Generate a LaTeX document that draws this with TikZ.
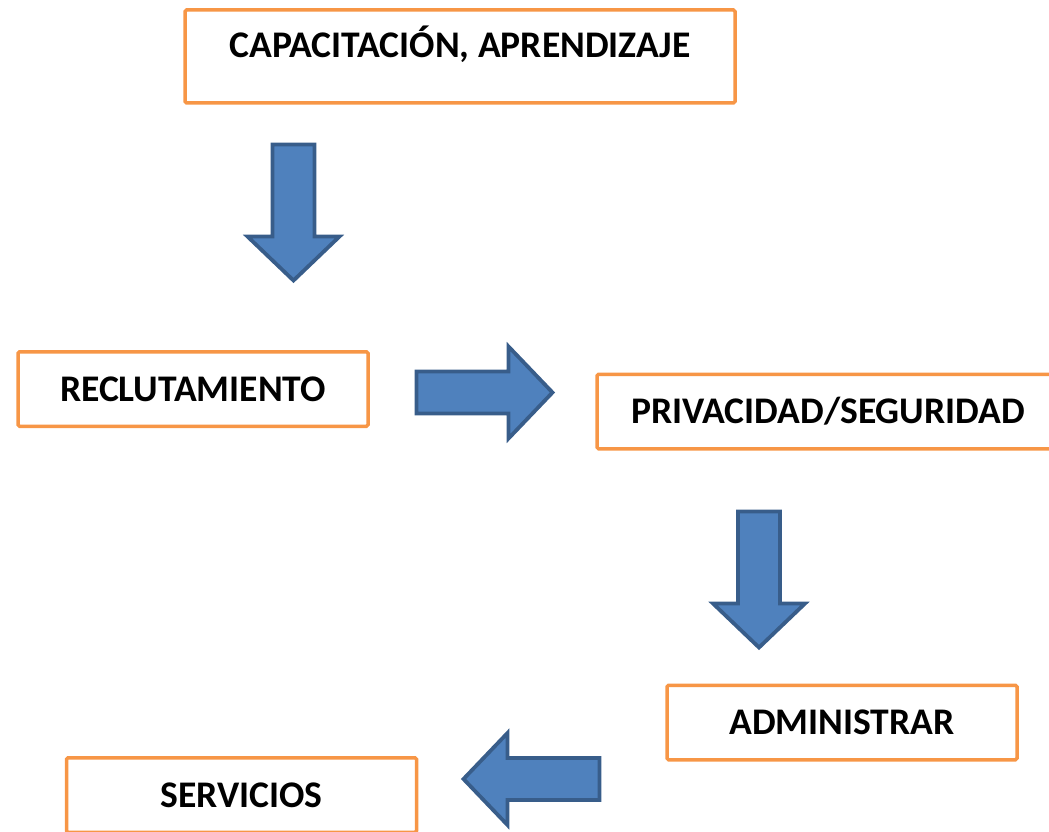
\documentclass[tikz,border=0pt]{standalone}
\usepackage{fontspec}
\setmainfont{Carlito}
\usepackage{tikz}
\usetikzlibrary{shapes,arrows}

\definecolor{naranja}{HTML}{F79646}
\definecolor{azulrelleno}{HTML}{4F81BD}
\definecolor{azulborde}{HTML}{385D8A}

\tikzset{
  caja/.style={rectangle, draw=naranja, line width=3.5pt, rounded corners=1.5pt, fill=white,
    minimum width=350pt, minimum height=74.5pt, inner ysep=0pt, text height=24pt, text depth=0pt,
    font=\fontsize{37.6}{44}\selectfont\bfseries},
  flecha/.style={fill=azulrelleno, draw=azulborde, line width=3.8pt, line join=miter},
  pics/flechabloque/.style={code={
    \draw[flecha] (-21,0) -- (21,0) -- (21,92) -- (46,92) -- (0,136) -- (-46,92) -- (-21,92) -- cycle;
  }}
}

\begin{document}
\begin{tikzpicture}[x=1pt, y=-1pt]
        \clip (0,0) rectangle (1049,832);
        % Cajas
        \node (capa) [caja, minimum width=550pt, minimum height=0pt, text height=48pt, text depth=45pt] at (460,56.5) {CAPACITACIÓN, APRENDIZAJE};
        \node (reclu) [caja] at (193,389) {RECLUTAMIENTO};
        \node (priv) [caja, minimum width=462pt] at (828,411.5) {PRIVACIDAD/SEGURIDAD};
        \node (admin) [caja] at (842,722.5) {ADMINISTRAR};
        \node (serv) [caja] at (241.5,795) {SERVICIOS};

        % Flechas
        \pic at (293.5,144.5) {flechabloque};
        \pic[rotate=90] at (416.5,392.5) {flechabloque};
        \pic at (759,511.5) {flechabloque};
        \pic[rotate=-90] at (599.5,779) {flechabloque};
\end{tikzpicture}
\end{document}
